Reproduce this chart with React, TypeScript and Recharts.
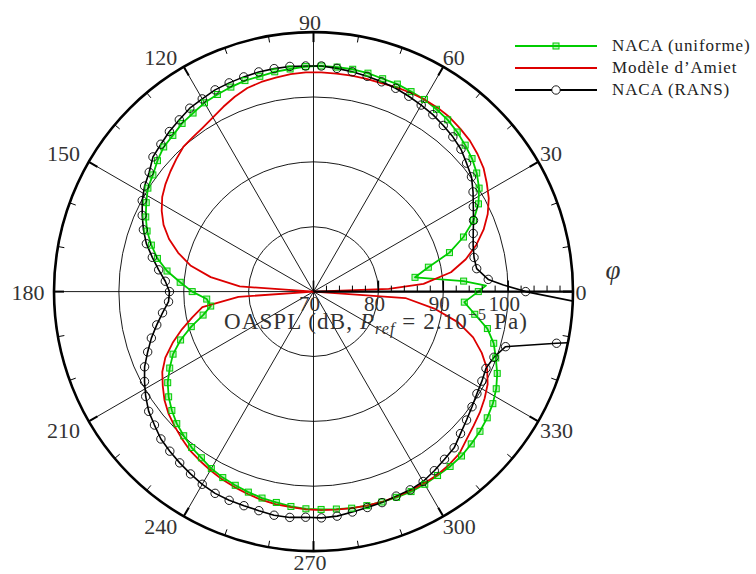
import { Legend, PolarAngleAxis, PolarGrid, PolarRadiusAxis, Radar, RadarChart } from 'recharts';

// polar angle of each sample, degrees (counter-clockwise from the right)
const ANGLES = [
  0, 2, 4, 8, 12, 16, 20, 24, 28, 32,
  36, 40, 44, 48, 52, 56, 60, 64, 68, 72,
  76, 80, 84, 88, 92, 96, 100, 104, 108, 112,
  116, 120, 124, 128, 132, 136, 140, 144, 148, 152,
  156, 160, 164, 168, 172, 176, 180, 184, 188, 192,
  196, 200, 204, 208, 212, 216, 220, 224, 228, 232,
  236, 240, 244, 248, 252, 256, 260, 264, 268, 272,
  276, 280, 284, 288, 292, 296, 300, 304, 308, 312,
  316, 320, 324, 328, 332, 336, 340, 344, 348, 352,
  356,
];

// OASPL in dB
const NACA_UNIFORME = [
  95.4, 96.6, 93.2, 85.8, 88.1, 91.8, 94.6, 97.0, 98.8, 100.1,
  101.1, 101.9, 102.5, 103.1, 103.6, 103.9, 104.2, 104.3, 104.5, 104.5,
  104.7, 104.8, 104.8, 104.8, 104.7, 104.5, 104.4, 104.2, 104.2, 104.0,
  103.8, 103.6, 103.2, 102.9, 102.4, 102.1, 101.4, 100.6, 100.1, 99.2,
  98.3, 97.3, 96.0, 94.6, 92.8, 90.6, 88.7, 86.5, 86.0, 87.4,
  89.6, 91.8, 93.7, 95.1, 96.5, 97.6, 98.5, 99.3, 99.9, 100.5,
  100.9, 101.5, 101.9, 102.2, 102.5, 102.8, 103.0, 103.3, 103.5, 103.6,
  103.7, 103.9, 104.0, 104.1, 104.2, 104.3, 104.3, 104.2, 104.2, 104.1,
  103.8, 103.5, 103.1, 102.6, 101.9, 101.0, 99.9, 98.9, 97.4, 95.1,
  93.3,
];

const AMIET = [
  70.0, 81.6, 87.0, 91.4, 94.0, 96.1, 97.9, 99.4, 100.6, 101.5,
  102.4, 103.0, 103.5, 103.8, 104.1, 104.2, 104.2, 104.1, 104.0, 103.8,
  103.8, 103.8, 103.8, 103.8, 103.8, 103.7, 103.5, 103.3, 103.0, 102.4,
  101.7, 101.0, 100.5, 100.2, 100.0, 99.4, 98.8, 98.2, 97.5, 96.5,
  95.3, 93.7, 91.7, 89.4, 86.0, 81.4, 70.0, 81.6, 87.3, 89.1,
  91.1, 93.1, 95.0, 96.4, 97.4, 98.4, 99.2, 99.8, 100.4, 101.0,
  101.4, 101.8, 102.2, 102.5, 102.8, 103.1, 103.3, 103.4, 103.6, 103.7,
  103.8, 103.9, 104.0, 104.1, 104.1, 104.1, 104.1, 104.1, 103.9, 103.6,
  102.8, 102.2, 101.7, 101.1, 100.4, 99.3, 97.6, 95.6, 92.8, 88.8,
  84.2,
];

const NACA_RANS = [
  102.7, 99.3, 97.0, 95.4, 95.3, 95.6, 96.2, 97.0, 97.9, 99.0,
  100.1, 100.8, 101.6, 102.1, 102.5, 102.9, 103.2, 103.5, 103.8, 104.0,
  104.2, 104.4, 104.6, 104.8, 104.8, 104.9, 104.9, 104.9, 104.8, 104.7,
  104.6, 104.3, 104.1, 103.6, 103.2, 102.7, 102.3, 101.3, 100.7, 99.9,
  98.9, 97.9, 96.8, 95.4, 94.1, 92.9, 92.2, 92.4, 93.5, 94.7,
  96.0, 97.2, 98.5, 99.5, 100.5, 101.4, 102.0, 102.7, 103.1, 103.5,
  103.9, 104.3, 104.6, 104.7, 104.7, 104.8, 105.0, 105.0, 104.8, 104.9,
  104.8, 104.5, 104.3, 104.2, 104.0, 104.0, 103.8, 103.3, 102.8, 102.4,
  101.5, 100.8, 100.2, 99.7, 99.4, 99.1, 99.6, 100.8, 108.3, 122.1,
  120.4,
];

const ANGLE_TICKS = [
  0, 10, 20, 30, 40, 50, 60, 70, 80, 90, 100, 110, 120, 130, 140, 150, 160, 170,
  180, 190, 200, 210, 220, 230, 240, 250, 260, 270, 280, 290, 300, 310, 320, 330, 340, 350,
];
const SPOKES = [0, 30, 60, 90, 120, 150, 180, 210, 240, 270, 300, 330];
const RADIAL_TICKS = [70, 72, 74, 76, 78, 80, 82, 84, 86, 88, 90, 92, 94, 96, 98, 100, 102, 104, 106, 108, 110];
const RINGS = [80, 90, 100, 110];
const R_MIN = 70;
const R_MAX = 110;

const data = ANGLES.map((angle, i) => ({
  angle,
  uniforme: NACA_UNIFORME[i],
  amiet: AMIET[i],
  rans: NACA_RANS[i],
}));

const CX = 313.5;
const CY = 291.6;
const R = 259.5;
const SERIF = '"Liberation Serif", "DejaVu Serif", serif';
const GREEN = '#00cc00';
const RED = '#dd0000';
const BLACK = '#000000';
const TEXT = '#333333';

const SERIES = [
  { key: 'uniforme', name: 'NACA (uniforme)', color: GREEN, marker: 'square' },
  { key: 'amiet', name: 'Modèle d\u2019Amiet', color: RED, marker: 'none' },
  { key: 'rans', name: 'NACA (RANS)', color: BLACK, marker: 'circle' },
];

const ringRadius = (v: number) => ((v - R_MIN) / (R_MAX - R_MIN)) * R;
const sgn = (v: number) => (Math.abs(v) < 1e-6 ? 0 : Math.sign(v));

function AngleTick(props: any) {
  const angle = Number(props.payload?.value ?? 0);
  const rad = (angle * Math.PI) / 180;
  const c = Math.cos(rad);
  const s = Math.sin(rad);
  const major = angle % 30 === 0;
  const len = major ? 10 : 6.5;
  let label = null;
  if (major) {
    const txt = String(angle);
    const w = txt.length * 11;
    const h = 14;
    const lx = CX - 3.5 + sgn(c) * (265.5 * Math.abs(c) + w / 2);
    const ly = CY + 0.5 - sgn(s) * (263 * Math.abs(s) + h / 2);
    label = (
      <text x={lx} y={ly} textAnchor="middle" dominantBaseline="central"
        fontFamily={SERIF} fontSize={22} fill={TEXT}>
        {txt}
      </text>
    );
  }
  return (
    <g>
      <line x1={CX + R * c} y1={CY - R * s} x2={CX + (R - len) * c} y2={CY - (R - len) * s}
        stroke="#000" strokeWidth={major ? 2 : 1} />
      {label}
    </g>
  );
}

function RadialTick(props: any) {
  const { x, y, payload } = props;
  const v = Number(payload?.value);
  const major = v % 10 === 0;
  return (
    <g>
      <line x1={x} y1={y} x2={x} y2={y - (major ? 11 : 6)} stroke="#000" strokeWidth={major ? 1.6 : 1} />
      {major && v < R_MAX && (
        <text x={x - 4} y={y + 12} textAnchor="middle" dominantBaseline="central"
          fontFamily={SERIF} fontSize={21} fill={TEXT}>
          {v}
        </text>
      )}
    </g>
  );
}

function ClippedLine(props: any) {
  const pts = props.points ?? [];
  if (!pts.length) return <g />;
  const d = pts.map((p: any, i: number) => `${i ? 'L' : 'M'}${p.x},${p.y}`).join(' ') + ' Z';
  const id = `clip-${props.dataKey ?? 'series'}`;
  return (
    <g>
      <defs>
        <clipPath id={id}>
          <circle cx={CX} cy={CY} r={R} />
        </clipPath>
      </defs>
      <path d={d} fill="none" stroke={props.stroke} strokeWidth={props.strokeWidth}
        strokeLinejoin="round" clipPath={`url(#${id})`} />
    </g>
  );
}

function rowOf(p: any) {
  return p.payload?.payload ?? p.payload ?? {};
}

function SquareDot(p: any) {
  const row = rowOf(p);
  if (row.angle % 4 !== 0 || row.uniforme > R_MAX) return <g key={p.index} />;
  return <rect key={p.index} x={p.cx - 3} y={p.cy - 3} width={6} height={6}
    fill="rgba(0,204,0,0.25)" stroke={GREEN} strokeWidth={1} />;
}

function CircleDot(p: any) {
  const row = rowOf(p);
  if (row.angle % 4 !== 0 || row.rans > R_MAX) return <g key={p.index} />;
  return <circle key={p.index} cx={p.cx} cy={p.cy} r={4.2} fill="none" stroke={BLACK} strokeWidth={0.9} />;
}

function LegendBox() {
  return (
    <div style={{ fontFamily: SERIF, fontSize: 17, color: '#222', letterSpacing: 0.9 }}>
      {SERIES.map((s) => (
        <div key={s.key} style={{ display: 'flex', alignItems: 'center', height: 22.2 }}>
          <svg width={82} height={12} style={{ flex: 'none' }}>
            <line x1={0} x2={82} y1={6} y2={6} stroke={s.color} strokeWidth={2} />
            {s.marker === 'square' && (
              <rect x={38} y={3} width={6} height={6} fill="rgba(0,204,0,0.25)" stroke={GREEN} strokeWidth={1} />
            )}
            {s.marker === 'circle' && <circle cx={41} cy={6} r={4.2} fill="#fff" stroke={BLACK} strokeWidth={0.9} />}
          </svg>
          <span style={{ marginLeft: 15, whiteSpace: 'nowrap' }}>{s.name}</span>
        </div>
      ))}
    </div>
  );
}

export default function App() {
  return (
    <div style={{ position: 'absolute', left: 0, top: 0, width: 756, height: 574, background: '#fff' }}>
      <RadarChart width={756} height={574} data={data} cx={CX} cy={CY} innerRadius={0} outerRadius={R}
        startAngle={0} endAngle={360} margin={{ top: 0, right: 0, bottom: 0, left: 0 }}>
        <PolarGrid gridType="circle" polarAngles={SPOKES} polarRadius={RINGS.map(ringRadius)}
          stroke="#000" strokeWidth={0.9} strokeOpacity={1} />
        <PolarAngleAxis type="number" dataKey="angle" domain={[0, 360]} ticks={ANGLE_TICKS}
          tickLine={false} axisLineType="circle" axisLine={{ stroke: '#000', strokeWidth: 2.6 }} tick={AngleTick} />
        <PolarRadiusAxis angle={0} type="number" domain={[R_MIN, R_MAX]} ticks={RADIAL_TICKS} allowDataOverflow
          axisLine={{ stroke: '#000', strokeWidth: 2.4 }} tickLine={false} tick={RadialTick} />
        <Radar name="NACA (uniforme)" dataKey="uniforme" stroke={GREEN} strokeWidth={1.8} fill="none"
          isAnimationActive={false} shape={ClippedLine} dot={SquareDot} />
        <Radar name="Modèle d'Amiet" dataKey="amiet" stroke={RED} strokeWidth={1.8} fill="none"
          isAnimationActive={false} shape={ClippedLine} dot={false} />
        <Radar name="NACA (RANS)" dataKey="rans" stroke={BLACK} strokeWidth={1.6} fill="none"
          isAnimationActive={false} shape={ClippedLine} dot={CircleDot} />
        <Legend layout="vertical" align="right" verticalAlign="middle" content={LegendBox}
          wrapperStyle={{ left: 515, top: 35, right: 'auto', width: 241 }} />
      </RadarChart>
      <div style={{
        position: 'absolute', left: 376, top: 322, transform: 'translate(-50%, -50%)',
        fontFamily: SERIF, fontSize: 23, color: TEXT, whiteSpace: 'nowrap', letterSpacing: 1.1,
      }}>
        OASPL (dB, <i>P</i><sub style={{ fontSize: 16 }}><i>ref</i></sub> = 2.10<sup style={{ fontSize: 16 }}>−5</sup> Pa)
      </div>
      <div style={{
        position: 'absolute', left: 613, top: 270, transform: 'translate(-50%, -50%)',
        fontFamily: SERIF, fontSize: 27, fontStyle: 'italic', color: TEXT,
      }}>
        φ
      </div>
    </div>
  );
}
